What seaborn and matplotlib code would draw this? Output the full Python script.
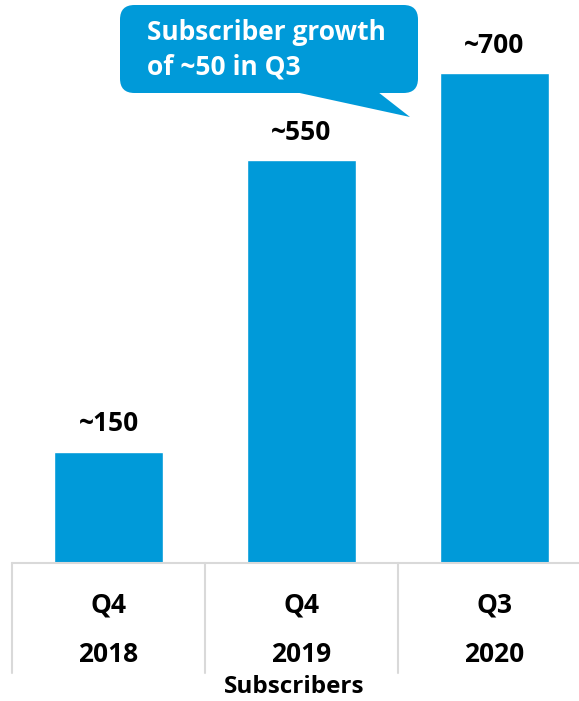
import matplotlib
matplotlib.use("Agg")
import matplotlib.pyplot as plt
import seaborn as sns
import pandas as pd
from matplotlib.patches import FancyBboxPatch, Polygon
from matplotlib.lines import Line2D

quarters = ["Q4", "Q4", "Q3"]
years = ["2018", "2019", "2020"]
subscribers = [159, 576, 700]
value_labels = ["~150", "~550", "~700"]
axis_title = "Subscribers"
callout_text = "Subscriber growth\nof ~50 in Q3"

BLUE = "#009ad9"
GRID = "#d9d9d9"

sns.set_theme(style="white")
plt.rcParams["font.family"] = ["Open Sans", "DejaVu Sans"]
plt.rcParams["text.color"] = "black"

W, H = 579, 701
fig = plt.figure(figsize=(W / 100, H / 100), dpi=100)

def fx(px):
    return px / W

def fy(py):
    return 1 - py / H

FS = 19

# axes: x from 12 to 591 px, y from 20 to 563 px
ax_left, ax_right, ax_top, ax_bottom = 12, 591, 20, 563
ax = fig.add_axes([fx(ax_left), fy(ax_bottom), fx(ax_right - ax_left), (ax_bottom - ax_top) / H])

df = pd.DataFrame({"cat": [f"{q}\n{y}" for q, y in zip(quarters, years)], "val": subscribers})
sns.barplot(data=df, x="cat", y="val", color=BLUE, saturation=1, width=0.56, ax=ax)
ax.set_xlim(-0.5, 2.5)
ax.set_ylim(0, (ax_bottom - ax_top) / 0.7)
ax.set_xticks([])
ax.set_yticks([])
ax.set_xlabel("")
ax.set_ylabel("")
for s in ax.spines.values():
    s.set_visible(False)

for i, (v, lab) in enumerate(zip(subscribers, value_labels)):
    ax.annotate(lab, (i, v), xytext=(0, 20), textcoords="offset points",
                ha="center", va="center", fontsize=FS, fontweight="bold", color="black")

# table-like grid below the axis
fig.add_artist(Line2D([fx(12), fx(579)], [fy(563), fy(563)], color=GRID, lw=1.5))
for i in range(3):
    xpx = ax_left + i * 193
    fig.add_artist(Line2D([fx(xpx), fx(xpx)], [fy(563), fy(673)], color=GRID, lw=1.5))
for i, (q, y) in enumerate(zip(quarters, years)):
    cx = ax_left + 193 * (i + 0.5)
    fig.text(fx(cx), fy(605), q, ha="center", va="center", fontsize=FS, fontweight="bold")
    fig.text(fx(cx), fy(655), y, ha="center", va="center", fontsize=FS, fontweight="bold")
fig.text(fx(294), fy(687), axis_title, ha="center", va="center", fontsize=17.5, fontweight="bold")

# callout bubble
bx0, by0, bx1, by1 = 120, 5, 418, 93
box = FancyBboxPatch((fx(bx0), fy(by1)), fx(bx1 - bx0), (by1 - by0) / H,
                     boxstyle="round,pad=0,rounding_size=0.025",
                     transform=fig.transFigure, facecolor=BLUE, edgecolor="none",
                     mutation_aspect=W / H)
fig.add_artist(box)
tail = Polygon([(fx(295), fy(92)), (fx(378), fy(92)), (fx(410), fy(117))],
               closed=True, transform=fig.transFigure, facecolor=BLUE, edgecolor="none")
fig.add_artist(tail)
fig.text(fx(147), fy(50), callout_text, ha="left", va="center", fontsize=FS,
         fontweight="bold", color="white", linespacing=1.35)

fig.savefig("out.png", dpi=100)
